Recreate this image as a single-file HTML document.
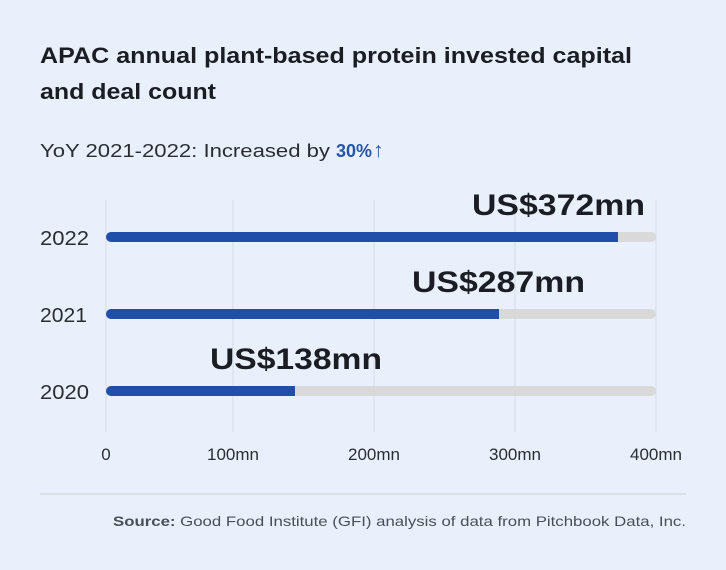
<!DOCTYPE html>
<html><head><meta charset="utf-8"><style>
html,body{margin:0;padding:0;background:#eaf0fb;}
svg{display:block;font-family:"Liberation Sans",sans-serif;}
</style></head><body>
<svg width="726" height="570" viewBox="0 0 726 570" xmlns="http://www.w3.org/2000/svg">
<rect width="726" height="570" fill="#eaf0fb"/>
<text x="40" y="63" font-size="22" font-weight="bold" fill="#1a1d24" textLength="592" lengthAdjust="spacingAndGlyphs">APAC annual plant-based protein invested capital</text>
<text x="40" y="99" font-size="22" font-weight="bold" fill="#1a1d24" textLength="176" lengthAdjust="spacingAndGlyphs">and deal count</text>
<text x="40" y="157" font-size="18" fill="#2a2d33" textLength="290" lengthAdjust="spacingAndGlyphs">YoY 2021-2022: Increased by</text>
<text x="336" y="157" font-size="18" font-weight="bold" fill="#2456a8" textLength="36" lengthAdjust="spacingAndGlyphs">30%</text>
<text x="373" y="157" font-size="21" fill="#2456a8">↑</text>
<g stroke="#d6dbe3" stroke-width="1">
<line x1="106" y1="200" x2="106" y2="432"/>
<line x1="233" y1="200" x2="233" y2="432"/>
<line x1="374" y1="200" x2="374" y2="432"/>
<line x1="515" y1="200" x2="515" y2="432"/>
<line x1="656" y1="200" x2="656" y2="432"/>
</g>
<g stroke-linecap="round" stroke-width="10">
<line x1="111" y1="237" x2="651" y2="237" stroke="#d9d9d9"/>
<line x1="111" y1="314" x2="651" y2="314" stroke="#d9d9d9"/>
<line x1="111" y1="391" x2="651" y2="391" stroke="#d9d9d9"/>
</g>
<g fill="#1f4fa8">
<path d="M111 232 H618 V242 H111 A5 5 0 0 1 111 232 Z"/>
<path d="M111 309 H499 V319 H111 A5 5 0 0 1 111 309 Z"/>
<path d="M111 386 H295 V396 H111 A5 5 0 0 1 111 386 Z"/>
</g>
<g font-size="20" fill="#2a2d33">
<text x="40" y="245" textLength="49" lengthAdjust="spacingAndGlyphs">2022</text>
<text x="40" y="322" textLength="47" lengthAdjust="spacingAndGlyphs">2021</text>
<text x="40" y="399" textLength="49" lengthAdjust="spacingAndGlyphs">2020</text>
</g>
<g font-size="30" font-weight="bold" fill="#1a1d24">
<text x="472" y="215" textLength="173" lengthAdjust="spacingAndGlyphs">US$372mn</text>
<text x="412" y="292" textLength="173" lengthAdjust="spacingAndGlyphs">US$287mn</text>
<text x="210" y="369" textLength="172" lengthAdjust="spacingAndGlyphs">US$138mn</text>
</g>
<g font-size="17" fill="#2a2d33" text-anchor="middle">
<text x="106" y="460">0</text>
<text x="233" y="460">100mn</text>
<text x="374" y="460">200mn</text>
<text x="515" y="460">300mn</text>
<text x="656" y="460">400mn</text>
</g>
<line x1="40" y1="494" x2="686" y2="494" stroke="#c9ced6" stroke-width="1"/>
<text x="686" y="526" font-size="14" fill="#4a4e56" text-anchor="end" textLength="573" lengthAdjust="spacingAndGlyphs"><tspan font-weight="bold">Source:</tspan> Good Food Institute (GFI) analysis of data from Pitchbook Data, Inc.</text>
</svg>
</body></html>
